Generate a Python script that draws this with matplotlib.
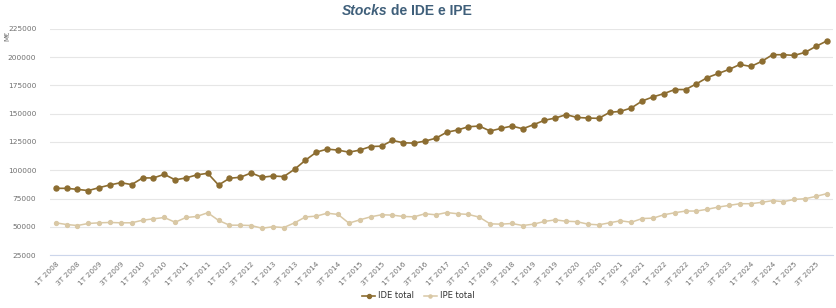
import matplotlib
matplotlib.use("Agg")
import matplotlib.pyplot as plt

# ── Datos trimestrales (M€), 1T 2008 – 4T 2025 ─────────────────
years = list(range(2008, 2026))
quarters = [f"{q}T {y}" for y in years for q in (1, 2, 3, 4)]

ide_total = [
    84000, 84000, 83100, 82000, 84600, 87000, 89000, 87300,
    93200, 93200, 96400, 91500, 93200, 95900, 97300, 86900,
    92900, 93800, 97600, 93800, 94900, 94400, 100900, 108900,
    116000, 118700, 117800, 116000, 117800, 121000, 121300, 126400,
    124300, 124000, 125800, 128300, 133600, 135600, 138500, 139100,
    134700, 137000, 139100, 136700, 140300, 144200, 146200, 149200,
    146700, 146200, 145900, 151200, 152100, 155100, 161300, 164900,
    167800, 171400, 171400, 176500, 182000, 185600, 189200, 193600,
    191800, 196300, 202200, 202200, 201600, 204300, 209600, 214400,
]
ipe_total = [
    53500, 52000, 51100, 52900, 53500, 53800, 53500, 53500,
    55800, 57000, 58200, 54000, 58200, 59100, 62400, 55600,
    51400, 51400, 51100, 48700, 50000, 49300, 53500, 58700,
    59400, 62000, 60900, 53200, 56100, 58800, 60600, 60300,
    59100, 58800, 61500, 60600, 62600, 61500, 60900, 58500,
    52600, 52300, 52900, 51100, 52300, 54700, 56100, 54900,
    54500, 52300, 51700, 53500, 55300, 54000, 57300, 57600,
    60600, 62400, 63900, 63900, 65500, 67400, 68900, 70400,
    70400, 71600, 73100, 72200, 74200, 74800, 76900, 79300,
]

ide_color = "#8c6d31"
ipe_color = "#d9c8a5"
text_gray = "#707070"

fig = plt.figure(figsize=(8.37, 3.08), dpi=100)
ax = fig.add_axes([0.06, 0.172, 0.935, 0.734])

x = list(range(len(quarters)))
ax.plot(x, ide_total, color=ide_color, linewidth=1.2, marker="o",
        markersize=3.6, label="IDE total", zorder=3)
ax.plot(x, ipe_total, color=ipe_color, linewidth=1.1, marker="o",
        markersize=2.8, label="IPE total", zorder=2)

ax.set_xlim(-0.5, 71.55)
ax.set_ylim(25000, 225000)
ax.set_yticks(range(25000, 225001, 25000))
ax.set_yticklabels([str(v) for v in range(25000, 225001, 25000)])
ax.set_xticks(x[::2])
ax.set_xticklabels(quarters[::2], rotation=45, ha="right",
                   rotation_mode="anchor")

ax.tick_params(axis="y", length=0, labelsize=5.3, labelcolor=text_gray, pad=10)
ax.tick_params(axis="x", length=0, labelsize=5.3, labelcolor=text_gray, pad=4)
ax.grid(axis="y", color="#e6e6e6", linewidth=0.8)
ax.set_axisbelow(True)
for side in ("top", "right", "left"):
    ax.spines[side].set_visible(False)
ax.spines["bottom"].set_color("#ccd6eb")
ax.spines["bottom"].set_linewidth(0.8)

# unidad del eje
fig.text(0.009, 0.885, "M€", rotation=90, fontsize=5, color=text_gray,
         ha="center", va="center")

# título con "Stocks" en cursiva
title_kw = dict(fontsize=10, fontweight="bold", color="#3f5f7a", va="center",
                family="Liberation Sans")
fig.text(0.4625, 0.965, "Stocks", style="italic", ha="right", **title_kw)
fig.text(0.4625, 0.965, " de IDE e IPE", ha="left", **title_kw)

fig.legend(loc="lower center", bbox_to_anchor=(0.5, 0.0), ncol=2,
           frameon=False, fontsize=6, handlelength=1.5, columnspacing=1.2,
           handletextpad=0.4, labelcolor="#333333", markerscale=0.8)

fig.savefig("out.png", dpi=100)
